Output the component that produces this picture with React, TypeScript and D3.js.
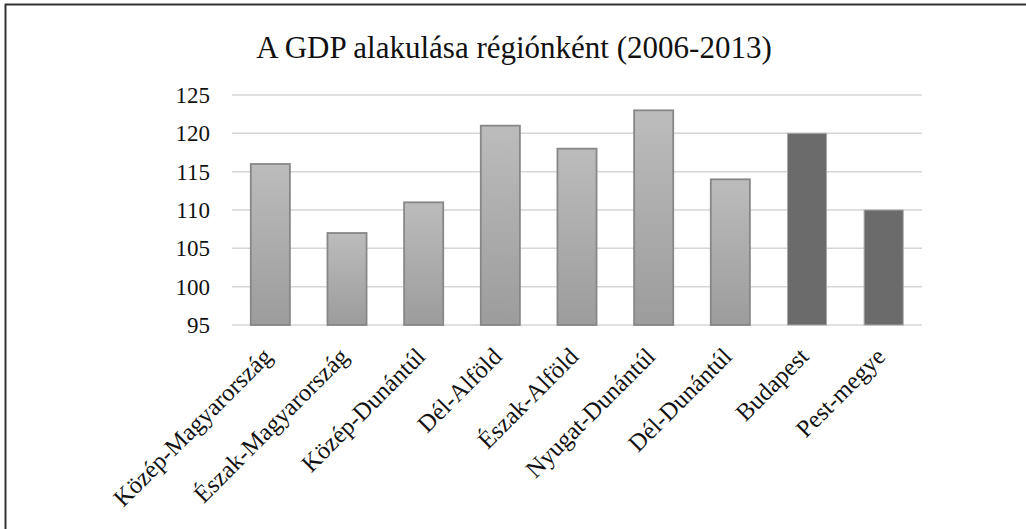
import React from 'react'
import * as d3 from 'd3'

const regions = [
  'Közép-Magyarország',
  'Észak-Magyarország',
  'Közép-Dunántúl',
  'Dél-Alföld',
  'Észak-Alföld',
  'Nyugat-Dunántúl',
  'Dél-Dunántúl',
  'Budapest',
  'Pest-megye',
]
const gdpIndex = [116, 107, 111, 121, 118, 123, 114, 120, 110]
const highlighted = ['Budapest', 'Pest-megye']
const yTicks = [95, 100, 105, 110, 115, 120, 125]

const W = 1026
const H = 529
const margin = { top: 95, right: 104, bottom: 204, left: 232 }
const serif = { fontFamily: "'Liberation Serif', 'Times New Roman', serif" }

export default function App() {
  const innerW = W - margin.left - margin.right
  const innerH = H - margin.top - margin.bottom

  const x = d3.scaleBand().domain(regions).range([0, innerW]).paddingInner(0.49).paddingOuter(0.245)
  const y = d3.scaleLinear().domain([95, 125]).range([innerH, 0])

  return (
    <svg width={W} height={H} style={{ position: 'absolute', left: 0, top: 0, background: '#fff', ...serif }}>
      <defs>
        <linearGradient id="barGrad" x1="0" y1="0" x2="0" y2="1">
          <stop offset="0%" stopColor="#bcbcbc" />
          <stop offset="100%" stopColor="#9c9c9c" />
        </linearGradient>
      </defs>

      {/* frame: only top and left edges are visible in the crop */}
      <line x1={5} x2={W} y1={4.5} y2={4.5} stroke="#333" strokeWidth={2} />
      <line x1={5.5} x2={5.5} y1={4} y2={H} stroke="#333" strokeWidth={2} />

      <text x={514} y={58} textAnchor="middle" style={serif} fontSize={31} fill="#111">
        A GDP alakulása régiónként (2006-2013)
      </text>

      <g transform={`translate(${margin.left},${margin.top})`}>
        {yTicks.map((t) => (
          <g key={t}>
            <line x1={0} x2={innerW} y1={y(t)} y2={y(t)} stroke="#d6d6d6" strokeWidth={1.5} />
            <text x={-22} y={y(t)} dy="0.35em" textAnchor="end" style={serif} fontSize={23} fill="#111">
              {t}
            </text>
          </g>
        ))}

        {regions.map((r, i) => {
          const dark = highlighted.includes(r)
          return (
            <rect
              key={r}
              x={x(r)!}
              y={y(gdpIndex[i])}
              width={x.bandwidth()}
              height={innerH - y(gdpIndex[i])}
              fill={dark ? '#6b6b6b' : 'url(#barGrad)'}
              stroke={dark ? '#a8a8a8' : '#878787'}
              strokeWidth={dark ? 1 : 1.8}
            />
          )
        })}

        {regions.map((r) => {
          const cx = x(r)! + x.bandwidth() / 2 + 3
          return (
            <text
              key={r}
              transform={`translate(${cx},${innerH + 33}) rotate(-45)`}
              textAnchor="end"
              style={serif}
              fontSize={24.5}
              fill="#111"
            >
              {r}
            </text>
          )
        })}
      </g>
    </svg>
  )
}
